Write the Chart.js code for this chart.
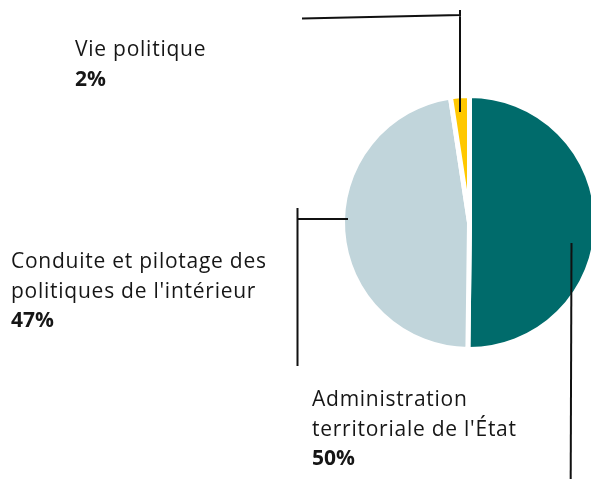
<!DOCTYPE html>
<html>
<head>
<meta charset="utf-8">
<script src="https://cdn.jsdelivr.net/npm/chart.js@4"></script>
<style>
  html, body { margin: 0; padding: 0; background: #fff; overflow: hidden; }
  #wrap { width: 600px; height: 480px; position: relative; }
</style>
</head>
<body>
<div id="wrap"><canvas id="pie"></canvas></div>
<script>
// Data (slice sizes, labels show rounded %)
const labels = ['Administration territoriale de l\'État', 'Conduite et pilotage des politiques de l\'intérieur', 'Vie politique'];
const values = [50.2, 47.4, 2.4];
const colors = ['#006b6b', '#c1d5db', '#ffc800'];

// label text lines + leader lines (layout only)
const callouts = [
  { lines: ['Administration', 'territoriale de l\'État'], x: 312, y: 406,
    path: [[571.5, 243], [570.7, 479]] },
  { lines: ['Conduite et pilotage des', 'politiques de l\'intérieur'], x: 11, y: 268,
    path: [[348, 219], [297.5, 219], [297.5, 208], [297.5, 366]] },
  { lines: ['Vie politique'], x: 75, y: 56,
    path: [[302, 18.5], [460, 15], [460, 10], [460, 112]] }
];

const FONT = '"Open Sans", sans-serif';

const calloutPlugin = {
  id: 'callouts',
  afterDraw(chart) {
    const c = chart.ctx;
    c.save();
    c.strokeStyle = '#111';
    c.lineWidth = 2;
    callouts.forEach((co, i) => {
      c.beginPath();
      co.path.forEach((p, j) => j === 0 ? c.moveTo(p[0], p[1]) : c.lineTo(p[0], p[1]));
      c.stroke();

      c.fillStyle = '#161616';
      c.textBaseline = 'alphabetic';
      c.textAlign = 'left';
      let y = co.y;
      c.font = '21px ' + FONT;
      c.letterSpacing = '0.75px';
      co.lines.forEach(line => {
        c.fillText(line, co.x, y);
        y += 29.5;
      });
      c.font = 'bold 21px ' + FONT;
      c.letterSpacing = '0px';
      c.fillText(Math.round(values[i]) + '%', co.x, y);
    });
    c.restore();
  }
};

const ctx = document.getElementById('pie').getContext('2d');
new Chart(ctx, {
  type: 'pie',
  data: {
    labels: labels,
    datasets: [{
      data: values,
      backgroundColor: colors,
      borderColor: '#fff',
      borderWidth: 5
    }]
  },
  options: {
    responsive: true,
    maintainAspectRatio: false,
    animation: false,
    layout: { padding: { left: 340, right: 1, top: 93, bottom: 128 } },
    plugins: {
      legend: { display: false },
      tooltip: { enabled: false }
    }
  },
  plugins: [calloutPlugin]
});
</script>
</body>
</html>
